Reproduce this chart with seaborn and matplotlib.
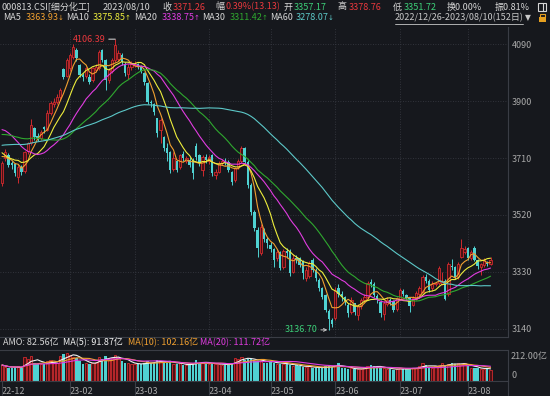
import numpy as np
import pandas as pd
import matplotlib
matplotlib.use("Agg")
import matplotlib.pyplot as plt
from matplotlib.patches import Rectangle
import seaborn as sns

# ---- data (000813.CSI, 2022/12/26 - 2023/08/10) ----
holidays = ["2023-01-02", "2023-01-23", "2023-01-24", "2023-01-25", "2023-01-26",
            "2023-01-27", "2023-04-05", "2023-05-01", "2023-05-02", "2023-05-03",
            "2023-06-22", "2023-06-23"]

open_px = [3626, 3709, 3720, 3692, 3690, 3648, 3680, 3668, 3733, 3760,
           3810, 3785, 3778, 3812, 3805, 3860, 3890, 3898, 3915, 4006,
           3985, 4010, 4048, 4070, 4020, 3988, 3985, 3981, 3970, 4005,
           4010, 4070, 4037, 3970, 4000, 4037, 4040, 4055, 4025, 3990,
           4015, 4020, 4022, 4015, 3992, 3960, 3898, 3890, 3842, 3805,
           3780, 3745, 3730, 3675, 3700, 3680, 3725, 3700, 3705, 3700,
           3750, 3720, 3670, 3712, 3700, 3720, 3655, 3665, 3695, 3700,
           3698, 3665, 3637, 3680, 3700, 3742, 3698, 3620, 3531, 3470,
           3392, 3470, 3440, 3420, 3405, 3375, 3395, 3345, 3400, 3400,
           3330, 3378, 3375, 3365, 3310, 3315, 3370, 3337, 3303, 3275,
           3253, 3200, 3170, 3178, 3275, 3258, 3245, 3220, 3195, 3225,
           3185, 3215, 3235, 3248, 3298, 3290, 3250, 3230, 3190, 3222,
           3237, 3232, 3205, 3240, 3268, 3252, 3245, 3220, 3240, 3255,
           3264, 3314, 3300, 3275, 3290, 3292, 3290, 3300, 3255, 3350,
           3345, 3312, 3380, 3398, 3409, 3376, 3409, 3370, 3345, 3352,
           3360, 3357.17]
close_px = [3692, 3731, 3687, 3688, 3659, 3681, 3665, 3731, 3759, 3820,
            3781, 3776, 3798, 3806, 3859, 3893, 3898, 3915, 3937, 3981,
            4037, 4053, 4081, 4043, 3987, 3981, 4009, 3965, 4009, 4015,
            4065, 4037, 3970, 4003, 4037, 4087, 4060, 4030, 3992, 4015,
            4025, 4025, 4014, 4000, 3965, 3898, 3893, 3865, 3793, 3837,
            3743, 3726, 3670, 3710, 3670, 3720, 3709, 3710, 3687, 3660,
            3712, 3692, 3715, 3705, 3712, 3660, 3665, 3692, 3700, 3695,
            3670, 3631, 3676, 3700, 3742, 3698, 3620, 3531, 3475, 3410,
            3480, 3441, 3425, 3405, 3370, 3395, 3342, 3400, 3392, 3326,
            3375, 3370, 3353, 3325, 3337, 3360, 3337, 3309, 3276, 3248,
            3203, 3172, 3158, 3270, 3255, 3245, 3231, 3192, 3236, 3195,
            3215, 3235, 3248, 3292, 3290, 3253, 3238, 3192, 3225, 3238,
            3227, 3203, 3242, 3270, 3257, 3242, 3215, 3242, 3259, 3276,
            3314, 3300, 3270, 3290, 3292, 3342, 3300, 3240, 3355, 3345,
            3310, 3355, 3409, 3405, 3376, 3395, 3370, 3350, 3355, 3370,
            3358.13, 3371.26]
high_px = [3700, 3740, 3728, 3700, 3695, 3690, 3688, 3735, 3765, 3840,
           3815, 3795, 3805, 3818, 3870, 3900, 3910, 3925, 3945, 4010,
           4045, 4060, 4090, 4078, 4025, 3995, 4015, 3990, 4015, 4022,
           4070, 4075, 4040, 4010, 4045, 4106.39, 4070, 4060, 4030, 4025,
           4035, 4032, 4028, 4020, 3998, 3962, 3905, 3895, 3845, 3845,
           3785, 3760, 3735, 3730, 3705, 3725, 3735, 3718, 3712, 3710,
           3760, 3725, 3720, 3722, 3720, 3725, 3675, 3700, 3708, 3710,
           3702, 3668, 3680, 3708, 3750, 3748, 3702, 3625, 3535, 3480,
           3490, 3478, 3448, 3430, 3410, 3405, 3400, 3408, 3410, 3405,
           3390, 3388, 3380, 3370, 3345, 3368, 3378, 3342, 3310, 3280,
           3258, 3205, 3178, 3280, 3290, 3265, 3250, 3225, 3245, 3228,
           3222, 3242, 3258, 3300, 3305, 3295, 3258, 3235, 3232, 3245,
           3242, 3235, 3248, 3275, 3272, 3258, 3248, 3250, 3265, 3282,
           3320, 3322, 3305, 3300, 3298, 3350, 3330, 3305, 3362, 3372,
           3350, 3362, 3439, 3415, 3412, 3402, 3415, 3374, 3360, 3375,
           3368, 3378.76]
low_px = [3615, 3700, 3680, 3675, 3650, 3626, 3655, 3660, 3725, 3755,
          3770, 3768, 3770, 3795, 3800, 3855, 3880, 3890, 3905, 3975,
          3980, 4000, 4040, 4035, 3980, 3968, 3978, 3958, 3965, 3998,
          4005, 4030, 3937, 3960, 3995, 4030, 4035, 4020, 3985, 3975,
          4005, 4012, 4008, 3992, 3955, 3890, 3880, 3855, 3780, 3760,
          3735, 3700, 3660, 3668, 3665, 3675, 3700, 3695, 3680, 3640,
          3705, 3685, 3650, 3695, 3690, 3650, 3640, 3660, 3688, 3688,
          3665, 3620, 3630, 3672, 3695, 3690, 3610, 3520, 3465, 3380,
          3385, 3430, 3410, 3395, 3345, 3365, 3335, 3340, 3375, 3318,
          3325, 3360, 3345, 3305, 3300, 3310, 3330, 3300, 3268, 3240,
          3195, 3136.70, 3145, 3170, 3248, 3232, 3220, 3180, 3190, 3185,
          3170, 3208, 3225, 3240, 3280, 3245, 3225, 3180, 3170, 3215,
          3220, 3195, 3200, 3235, 3250, 3238, 3198, 3215, 3235, 3250,
          3260, 3292, 3262, 3268, 3282, 3288, 3285, 3235, 3250, 3335,
          3305, 3308, 3375, 3390, 3370, 3370, 3365, 3340, 3320, 3345,
          3350, 3351.72]
# turnover (AMO), 亿
amount = [121, 108, 100, 96, 104, 112, 98, 178, 165, 190,
          140, 130, 125, 128, 150, 160, 145, 135, 190, 205,
          212, 198, 185, 172, 150, 130, 140, 125, 135, 145,
          185, 170, 190, 160, 175, 200, 180, 150, 140, 135,
          130, 128, 125, 130, 140, 150, 135, 140, 160, 150,
          145, 140, 150, 130, 125, 135, 120, 118, 125, 130,
          160, 140, 145, 130, 125, 135, 128, 130, 122, 118,
          125, 140, 175, 170, 185, 160, 170, 165, 150, 155,
          160, 140, 135, 150, 140, 130, 128, 125, 135, 120,
          115, 118, 110, 105, 108, 112, 100, 95, 98, 105,
          110, 115, 108, 120, 135, 100, 95, 92, 96, 88,
          90, 92, 98, 115, 120, 110, 105, 100, 95, 92,
          90, 85, 88, 100, 92, 90, 95, 98, 102, 110,
          135, 120, 105, 100, 110, 118, 140, 112, 125, 138,
          130, 134.8, 120, 135, 110, 100, 97.25, 97, 90, 94,
          95.8, 82.56]
# closes before the window, implied by where the MA lines start
pre_close = [3660, 3645, 3630, 3655, 3680, 3700, 3690, 3670, 3650, 3640,
             3665, 3690, 3710, 3730, 3720, 3705, 3725, 3745, 3760, 3750,
             3735, 3755, 3770, 3780, 3765, 3750, 3770, 3785, 3790, 3775,
             3740, 3730, 3750, 3765, 3745, 3760, 3775, 3770, 3760, 3765,
             3800, 3840, 3870, 3890, 3910, 3925, 3915, 3900, 3890, 3880,
             3820, 3760, 3730, 3700, 3690, 3735, 3720, 3710, 3718]

tick_labels = ["22-12", "23-02", "23-03", "23-04", "23-05", "23-06", "23-07", "23-08"]
price_ticks = [3140, 3330, 3520, 3710, 3900, 4090]
ma_windows = [5, 10, 20, 30, 60]
ma_header = ["3363.93", "3375.85", "3338.75", "3311.42", "3278.07"]
ma_trend = ["↓", "↑", "↑", "↑", "↓"]
vol_windows = [5, 10, 20]
vol_header = ["AMO: 82.56亿", "MA(5): 91.87亿", "MA(10): 102.16亿", "MA(20): 111.72亿"]

# ---- style ----
bg = "#16181d"
grid_c = "#3a3d45"
txt = "#d6d6d6"
up_c, up_fill = "#d02a2e", "#4a1114"
dn_c = "#4fd2d2"
red_t, green_t = "#e8383d", "#3ccf78"
ma_colors = ["#f0a030", "#eded3c", "#e03ce0", "#2fa82f", "#5cc8c8"]
vol_colors = ["#f2f2f2", "#f0a030", "#e03ce0"]
fs = 6.5

sns.set_style("dark", {"axes.facecolor": bg, "figure.facecolor": bg})
plt.rcParams["font.family"] = ["Noto Sans CJK SC", "DejaVu Sans"]

dates = pd.bdate_range("2022-12-26", "2023-08-10")
dates = dates[~dates.isin(pd.to_datetime(holidays))]
df = pd.DataFrame({"date": dates, "open": open_px, "close": close_px,
                   "high": high_px, "low": low_px, "amo": amount})
df["x"] = np.arange(len(df))
ym = df["date"].dt.strftime("%y-%m")
tick_pos = [int(df.index[ym == lab][0]) for lab in tick_labels]

full_close = pd.Series(pre_close + close_px)
for w in ma_windows:
    df[f"ma{w}"] = full_close.rolling(w, min_periods=1).mean().iloc[len(pre_close):].values
for w in vol_windows:
    df[f"vma{w}"] = df["amo"].rolling(w, min_periods=1).mean()

W, H = 550, 396
fig = plt.figure(figsize=(W / 100, H / 100), dpi=100)


def px_axes(x0, y0, x1, y1):
    return fig.add_axes([x0 / W, 1 - y1 / H, (x1 - x0) / W, (y1 - y0) / H])


def put(x, y, s, color=txt, size=fs, **kw):
    fig.text(x / W, 1 - y / H, s, color=color, fontsize=size, ha="left", va="center", **kw)


ax = px_axes(0, 27, 508, 337)
axv = px_axes(0, 350, 508, 381)
xlim = (-0.62, 156.4)

# ---- price pane ----
up = (df["close"] >= df["open"]).values
body_lo = np.minimum(df["open"], df["close"])
body_h = np.maximum(np.abs(df["close"] - df["open"]), 1.5)
ax.vlines(df["x"], df["low"], df["high"], colors=np.where(up, up_c, dn_c), lw=0.7, zorder=2)
ax.bar(df["x"][up], body_h[up], bottom=body_lo[up], width=0.74,
       facecolor=up_fill, edgecolor=up_c, linewidth=0.6, zorder=3)
ax.bar(df["x"][~up], body_h[~up], bottom=body_lo[~up], width=0.74,
       color=dn_c, linewidth=0, zorder=3)
for w, c in zip(ma_windows, ma_colors):
    sns.lineplot(data=df, x="x", y=f"ma{w}", ax=ax, color=c, linewidth=0.8, zorder=4)

i_hi = int(df["high"].idxmax())
i_lo = int(df["low"].idxmin())
ax.annotate(f"{df['high'][i_hi]:.2f}", xy=(i_hi, df["high"][i_hi]), xytext=(-7, 0),
            textcoords="offset points", ha="right", va="center", color=red_t, fontsize=fs,
            arrowprops=dict(arrowstyle="-", color="#c8c8c8", lw=0.8, shrinkA=0, shrinkB=0))
ax.annotate(f"{df['low'][i_lo]:.2f}", xy=(i_lo, df["low"][i_lo]), xytext=(-8, 0),
            textcoords="offset points", ha="right", va="center", color=green_t, fontsize=fs,
            arrowprops=dict(arrowstyle="->", color="#c8c8c8", lw=0.7, shrinkA=0, shrinkB=1,
                            mutation_scale=5))

ax.set_xlim(*xlim)
ax.set_ylim(3113, 4147)
ax.set_yticks(price_ticks)
ax.yaxis.tick_right()
ax.tick_params(axis="y", length=0, pad=3, labelsize=fs, labelcolor="#a8a8a8")
ax.set_xticks(tick_pos[1:])
ax.tick_params(axis="x", length=0, labelbottom=False)
ax.grid(True, color=grid_c, linestyle=(0, (1, 2)), linewidth=0.6)
ax.set_xlabel("")
ax.set_ylabel("")
for s in ["left", "top"]:
    ax.spines[s].set_visible(False)
for s in ["right", "bottom"]:
    ax.spines[s].set_color(grid_c)
    ax.spines[s].set_linewidth(0.8)

# ---- amount pane ----
axv.bar(df["x"][up], df["amo"][up], width=0.74, facecolor=up_fill, edgecolor=up_c, linewidth=0.6)
axv.bar(df["x"][~up], df["amo"][~up], width=0.74, color=dn_c, linewidth=0)
for w, c in zip(vol_windows, vol_colors):
    sns.lineplot(data=df, x="x", y=f"vma{w}", ax=axv, color=c, linewidth=0.8, zorder=4)
axv.set_xlim(*xlim)
axv.set_ylim(0, 212 * 31 / 28)
axv.set_yticks([])
axv.set_xticks(tick_pos)
axv.set_xticklabels(tick_labels, ha="left")
axv.tick_params(axis="x", length=0, pad=4, labelsize=fs, labelcolor="#a8a8a8")
axv.set_xlabel("")
axv.set_ylabel("")
axv.spines["left"].set_visible(False)
for s in ["right", "bottom", "top"]:
    axv.spines[s].set_color(grid_c)
    axv.spines[s].set_linewidth(0.8)
axv.vlines(tick_pos, -14 / 31, 0, transform=axv.get_xaxis_transform(),
           color=grid_c, lw=0.8, clip_on=False)
put(511, 357, f"{max(amount):.2f}亿", color="#a8a8a8")
put(511, 376, "0", color="#a8a8a8")
fig.add_artist(plt.Line2D([508 / W, 508 / W], [1 - 381 / H, 1 - 395 / H], color=grid_c, lw=0.8))

# AMO header
for x0, s, c in zip([3, 63, 128, 200], vol_header, [txt] + vol_colors):
    put(x0, 343, s, color=c)

# ---- header rows ----
put(2, 7, "000813.CSI[细分化工]")
put(103, 7, "2023/08/10")
put(162, 7, "收")
put(173, 7, "3371.26", color=red_t)
put(215, 7, "幅")
put(226, 7, "0.39%(13.13)", color=red_t)
put(283, 7, "开")
put(294, 7, "3357.17", color=green_t)
put(338, 7, "高")
put(349, 7, "3378.76", color=red_t)
put(393, 7, "低")
put(404, 7, "3351.72", color=green_t)
put(447, 7, "换0.00%")
put(495, 7, "振0.81%")
fig.add_artist(Rectangle((538 / W, 1 - 11 / H), 8 / W, 8 / H, transform=fig.transFigure,
                         fill=False, edgecolor=txt, lw=0.8))
fig.add_artist(plt.Line2D([543 / W, 543 / W], [1 - 11 / H, 1 - 3 / H], color=txt, lw=0.8))

for x0, name in zip([3, 66, 134, 202, 270], [f"MA{w}" for w in ma_windows]):
    put(x0, 18, name)
for x0, s, t, c in zip([26, 93, 162, 230, 296], ma_header, ma_trend, ma_colors):
    put(x0, 18, s, color=c)
    put(x0 + 32, 18, t, color=c, size=5, family=["DejaVu Sans"])
put(395, 18, "2022/12/26-2023/08/10(152日)", color="#c8c8c8")
fig.add_artist(plt.Line2D([395 / W, 523 / W], [1 - 23.5 / H, 1 - 23.5 / H], color="#c8c8c8", lw=0.6))
put(525, 18, "▼", color="#c8c8c8", size=5.5, family=["DejaVu Sans"])
fig.add_artist(Rectangle((539 / W, 1 - 22 / H), 7 / W, 5 / H, transform=fig.transFigure,
                         color="#e6a020", lw=0))
fig.add_artist(Rectangle((540 / W, 1 - 17 / H), 5 / W, 3 / H, transform=fig.transFigure,
                         fill=False, edgecolor="#e6a020", lw=0.8))

fig.savefig("out.png", dpi=100, facecolor=bg)
